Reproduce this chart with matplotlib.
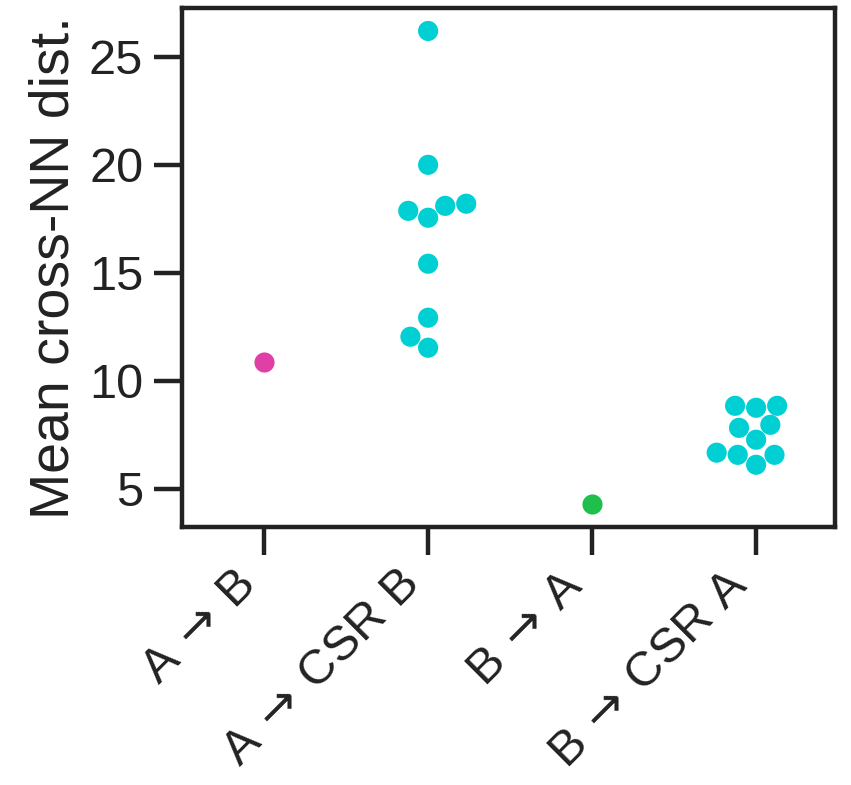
import pandas as pd
import matplotlib
matplotlib.use("Agg")
import matplotlib.pyplot as plt
import matplotlib.transforms as mtransforms
import seaborn as sns

# Données
categories = ["A → B", "A → CSR B", "B → A", "B → CSR A"]
vals_ab = [10.85]
vals_a_csrb = [26.2, 20.0, 18.2, 18.1, 17.87, 17.55, 15.42, 12.92, 12.04, 11.53]
vals_ba = [4.31]
vals_b_csra = [8.84, 8.75, 8.84, 7.82, 7.96, 7.27, 6.57, 6.67, 6.11, 6.57]
couleurs = ["#E03FA6", "#00D0D4", "#1FBF4C", "#00D0D4"]

rows = []
for cat, vals in zip(categories, [vals_ab, vals_a_csrb, vals_ba, vals_b_csra]):
    for v in vals:
        rows.append({"cat": cat, "val": v})
df = pd.DataFrame(rows)

plt.rcParams['font.family'] = ['Liberation Sans', 'DejaVu Sans']
plt.rcParams['mathtext.fontset'] = 'dejavusans'

fig = plt.figure(figsize=(8.51, 7.85), dpi=100)
ax = fig.add_axes([0.214, 0.329, 0.767, 0.661])

sns.swarmplot(data=df, x="cat", y="val", hue="cat", palette=couleurs,
              order=categories, hue_order=categories, size=14.5,
              legend=False, ax=ax)

ax.set_xlim(-0.5, 3.48)
ax.set_ylim(3.24, 27.27)
ax.set_yticks([5, 10, 15, 20, 25])
ax.set_xlabel("")
ax.set_ylabel("Mean cross-NN dist.", fontsize=40, labelpad=6, color="#222222")

for s in ax.spines.values():
    s.set_linewidth(3.2)
    s.set_color("#222222")

ax.tick_params(axis="both", labelsize=35, width=3.2, length=20, color="#222222",
               labelcolor="#222222")
ax.tick_params(axis="x", pad=4)
ax.tick_params(axis="y", pad=8)
ax.set_xticks(range(len(categories)))
# flèche un peu espacée comme dans la figure d'origine
etiquettes = [c.replace(" → ", r"$\,\rightarrow\,$") for c in categories]
ax.set_xticklabels(etiquettes, rotation=45, ha="right", va="center",
                   rotation_mode="anchor")
decalage = mtransforms.ScaledTranslation(-0.16, -0.18, fig.dpi_scale_trans)
for lbl in ax.get_xticklabels():
    lbl.set_transform(lbl.get_transform() + decalage)

fig.savefig("out.png", dpi=100)
